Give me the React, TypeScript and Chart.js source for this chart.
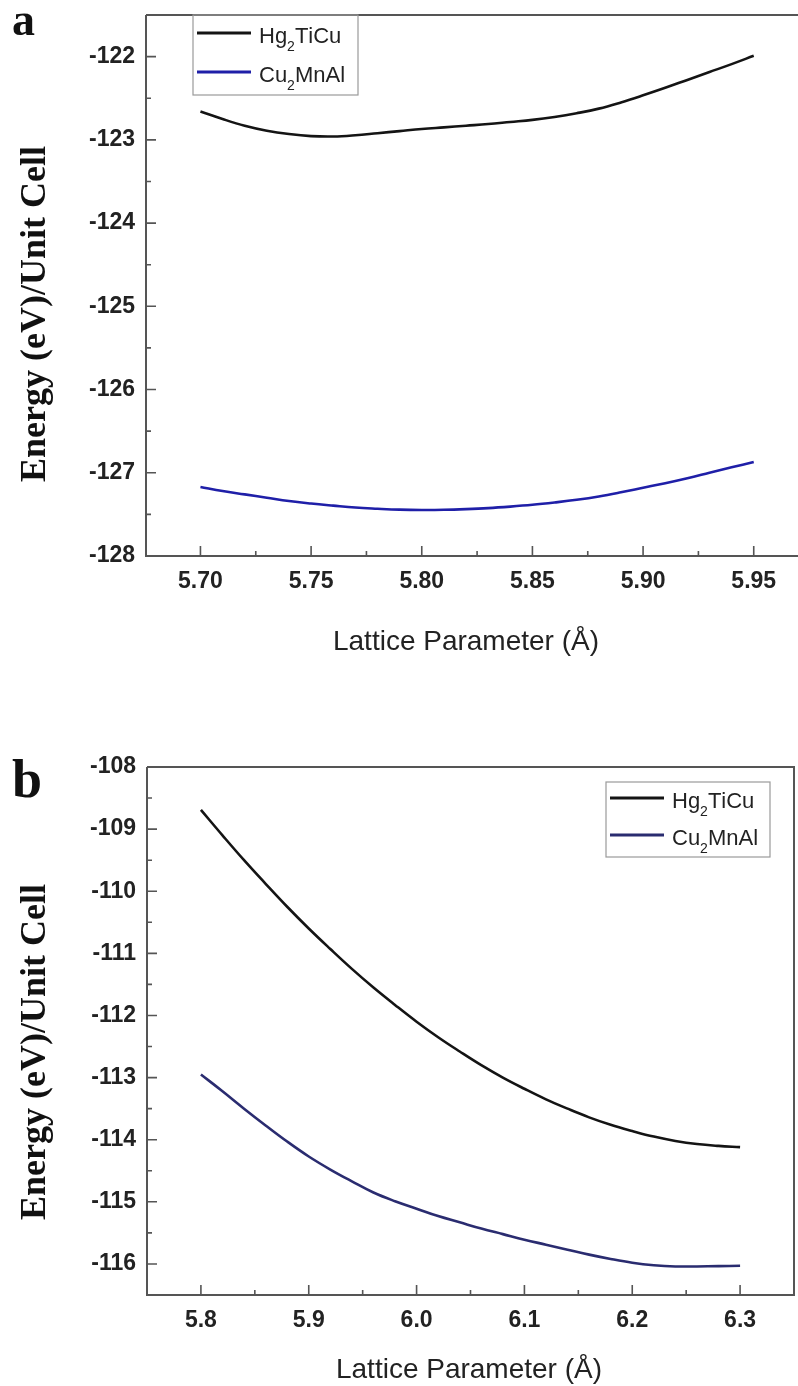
import React, { useEffect, useRef } from "react";
import { Chart, registerables } from "chart.js";

Chart.register(...registerables);

// ---------- data ----------
const seriesLabels = ["Hg₂TiCu", "Cu₂MnAl"];
const yTitle = "Energy (eV)/Unit Cell";
const xTitle = "Lattice Parameter (Å)";
const panelLetters = ["a", "b"];

const latticeA = [
  5.70, 5.71, 5.72, 5.73, 5.74, 5.75, 5.76, 5.77, 5.78, 5.79, 5.80, 5.81, 5.82,
  5.83, 5.84, 5.85, 5.86, 5.87, 5.88, 5.89, 5.90, 5.91, 5.92, 5.93, 5.94, 5.95,
];
const hgTiCuA = [
  -122.66, -122.75, -122.83, -122.89, -122.93, -122.955, -122.96, -122.945,
  -122.92, -122.895, -122.87, -122.85, -122.83, -122.81, -122.785, -122.76,
  -122.725, -122.68, -122.625, -122.55, -122.465, -122.375, -122.28, -122.185,
  -122.09, -121.99,
];
const cuMnAlA = [
  -127.17, -127.22, -127.26, -127.3, -127.34, -127.37, -127.395, -127.418,
  -127.432, -127.443, -127.447, -127.445, -127.437, -127.425, -127.407,
  -127.385, -127.357, -127.325, -127.285, -127.235, -127.18, -127.125,
  -127.065, -127.0, -126.935, -126.87,
];
const xTicksA = [5.7, 5.75, 5.8, 5.85, 5.9, 5.95];
const yTicksA = [-128, -127, -126, -125, -124, -123, -122];

const latticeB = [
  5.80, 5.82, 5.84, 5.86, 5.88, 5.90, 5.92, 5.94, 5.96, 5.98, 6.00, 6.02, 6.04,
  6.06, 6.08, 6.10, 6.12, 6.14, 6.16, 6.18, 6.20, 6.22, 6.24, 6.26, 6.28, 6.30,
];
const hgTiCuB = [
  -108.69, -109.1, -109.5, -109.88, -110.25, -110.6, -110.93, -111.25,
  -111.55, -111.83, -112.1, -112.35, -112.58, -112.8, -113.0, -113.18,
  -113.35, -113.5, -113.64, -113.76, -113.86, -113.95, -114.02, -114.07,
  -114.1, -114.12,
];
const cuMnAlB = [
  -112.95, -113.22, -113.5, -113.77, -114.03, -114.27, -114.48, -114.67,
  -114.85, -114.99, -115.11, -115.23, -115.33, -115.43, -115.52, -115.61,
  -115.69, -115.77, -115.85, -115.92, -115.98, -116.02, -116.04, -116.04,
  -116.035, -116.03,
];
const xTicksB = [5.8, 5.9, 6.0, 6.1, 6.2, 6.3];
const yTicksB = [-116, -115, -114, -113, -112, -111, -110, -109, -108];

// ---------- drawing helpers ----------
const SUBS: Record<string, string> = { "₂": "2" };

function drawRich(ctx: CanvasRenderingContext2D, text: string, x: number, y: number, size: number, subSize: number, subDrop: number) {
  let cx = x;
  for (const ch of Array.from(text)) {
    if (SUBS[ch]) {
      ctx.font = `${subSize}px "Liberation Sans", Arial, sans-serif`;
      ctx.fillText(SUBS[ch], cx, y + subDrop);
      cx += ctx.measureText(SUBS[ch]).width;
    } else {
      ctx.font = `${size}px "Liberation Sans", Arial, sans-serif`;
      ctx.fillText(ch, cx, y);
      cx += ctx.measureText(ch).width;
    }
  }
}

const framePlugin = {
  id: "frame",
  afterDraw(chart: any, _args: any, o: any) {
    const { ctx, chartArea: ca, scales } = chart;
    const xs = scales.x;
    const ys = scales.y;
    ctx.save();

    // frame
    ctx.strokeStyle = o.axisColor;
    ctx.lineWidth = 2;
    ctx.beginPath();
    ctx.moveTo(ca.left, ca.top);
    ctx.lineTo(ca.left, ca.bottom);
    ctx.lineTo(ca.right, ca.bottom);
    if (o.rightBorder) ctx.lineTo(ca.right, ca.top);
    else ctx.moveTo(ca.right, ca.top);
    ctx.lineTo(ca.left, ca.top);
    ctx.stroke();

    // ticks (inward), major + minor
    ctx.lineWidth = 1.6;
    const xVals = xs.ticks.map((t: any) => t.value);
    const yVals = ys.ticks.map((t: any) => t.value);
    const minorOf = (vals: number[], step: number, min: number, max: number) => {
      const out: number[] = [];
      if (!vals.length) return out;
      const cand = [vals[0] - step / 2, ...vals.map((v) => v + step / 2)];
      for (const c of cand) if (c > min + step * 0.05 && c < max - step * 0.05) out.push(c);
      return out;
    };
    ctx.beginPath();
    for (const v of xVals) {
      const p = xs.getPixelForValue(v);
      ctx.moveTo(p, ca.bottom);
      ctx.lineTo(p, ca.bottom - 10);
    }
    for (const v of minorOf(xVals, o.xStep, xs.min, xs.max)) {
      const p = xs.getPixelForValue(v);
      ctx.moveTo(p, ca.bottom);
      ctx.lineTo(p, ca.bottom - 5);
    }
    for (const v of yVals) {
      const p = ys.getPixelForValue(v);
      ctx.moveTo(ca.left, p);
      ctx.lineTo(ca.left + 10, p);
    }
    for (const v of minorOf(yVals, o.yStep, ys.min, ys.max)) {
      const p = ys.getPixelForValue(v);
      ctx.moveTo(ca.left, p);
      ctx.lineTo(ca.left + 5, p);
    }
    ctx.stroke();

    // axis titles
    ctx.fillStyle = "#222";
    ctx.textAlign = "center";
    ctx.textBaseline = "alphabetic";
    ctx.font = `28px "Liberation Sans", Arial, sans-serif`;
    ctx.fillText(o.xTitle, o.xTitleX, o.xTitleY);

    ctx.save();
    ctx.translate(o.yTitleX, o.yTitleY);
    ctx.rotate(-Math.PI / 2);
    ctx.fillStyle = "#111";
    ctx.font = `bold 36px "Liberation Serif", "Times New Roman", serif`;
    ctx.fillText(o.yTitle, 0, 0);
    ctx.restore();

    // panel letter
    ctx.textAlign = "left";
    ctx.fillStyle = "#111";
    ctx.font = `bold ${o.letterSize}px "Liberation Serif", "Times New Roman", serif`;
    ctx.fillText(o.letter, o.letterX, o.letterY);

    // legend
    const L = o.legend;
    ctx.strokeStyle = "#9a9a9a";
    ctx.lineWidth = 1.2;
    ctx.strokeRect(L.left, L.top, L.width, L.height);
    chart.data.datasets.forEach((ds: any, i: number) => {
      const ry = L.top + L.rows[i];
      ctx.strokeStyle = ds.borderColor;
      ctx.lineWidth = 3;
      ctx.beginPath();
      ctx.moveTo(L.left + 4, ry);
      ctx.lineTo(L.left + 58, ry);
      ctx.stroke();
      ctx.fillStyle = "#222";
      ctx.textAlign = "left";
      ctx.textBaseline = "alphabetic";
      drawRich(ctx, ds.label, L.left + 66, ry + 10, 22, 14, 8);
    });

    ctx.restore();
  },
};

function makeConfig(p: any) {
  const tickFont = { family: '"Liberation Sans", Arial, sans-serif', size: 23, weight: "bold" as const };
  return {
    type: "line" as const,
    data: {
      datasets: [
        {
          label: seriesLabels[0],
          data: p.xs.map((x: number, i: number) => ({ x, y: p.s1[i] })),
          borderColor: p.c1,
          borderWidth: 2.6,
          pointRadius: 0,
          tension: 0.4,
          fill: false,
        },
        {
          label: seriesLabels[1],
          data: p.xs.map((x: number, i: number) => ({ x, y: p.s2[i] })),
          borderColor: p.c2,
          borderWidth: 2.6,
          pointRadius: 0,
          tension: 0.4,
          fill: false,
        },
      ],
    },
    options: {
      responsive: false,
      animation: false as const,
      layout: { padding: { top: p.padTop, right: p.padRight, left: 0, bottom: 0 } },
      plugins: {
        legend: { display: false },
        tooltip: { enabled: false },
        frame: p.frame,
      },
      scales: {
        x: {
          type: "linear" as const,
          min: p.xMin,
          max: p.xMax,
          grid: { display: false, drawTicks: false },
          border: { display: false },
          afterBuildTicks: (s: any) => {
            s.ticks = p.xTicks.map((v: number) => ({ value: v }));
          },
          ticks: {
            autoSkip: false,
            maxRotation: 0,
            padding: 12,
            color: "#222",
            font: tickFont,
            callback: (v: any) => Number(v).toFixed(p.xDec),
          },
          afterFit: (s: any) => {
            s.height = p.xAxisH;
            s.paddingLeft = 0;
            s.paddingRight = 0;
          },
        },
        y: {
          type: "linear" as const,
          min: p.yMin,
          max: p.yMax,
          grid: { display: false, drawTicks: false },
          border: { display: false },
          afterBuildTicks: (s: any) => {
            s.ticks = p.yTicks.map((v: number) => ({ value: v }));
          },
          ticks: {
            autoSkip: false,
            padding: 11,
            color: "#222",
            font: tickFont,
            callback: (v: any) => String(Math.round(Number(v))),
          },
          afterFit: (s: any) => {
            s.width = p.yAxisW;
            s.paddingTop = 0;
            s.paddingBottom = 0;
          },
        },
      },
    },
    plugins: [framePlugin],
  };
}

function Panel(props: { top: number; height: number; cfg: any }) {
  const ref = useRef<HTMLCanvasElement>(null);
  useEffect(() => {
    if (!ref.current) return;
    const chart = new Chart(ref.current, props.cfg);
    return () => chart.destroy();
  }, []);
  return (
    <canvas
      ref={ref}
      width={798}
      height={props.height}
      style={{ position: "absolute", left: 0, top: props.top, width: 798, height: props.height }}
    />
  );
}

const cfgA = makeConfig({
  xs: latticeA,
  s1: hgTiCuA,
  s2: cuMnAlA,
  c1: "#141414",
  c2: "#1f1fa8",
  xMin: 5.6754,
  xMax: 5.97,
  xStep: 0.05,
  xTicks: xTicksA,
  yTicks: yTicksA,
  xDec: 2,
  yMin: -128,
  yMax: -121.5,
  padTop: 15,
  padRight: 0,
  xAxisH: 104,
  yAxisW: 146,
  frame: {
    axisColor: "#555",
    rightBorder: false,
    xStep: 0.05,
    yStep: 1,
    xTitle,
    xTitleX: 466,
    xTitleY: 650,
    yTitle,
    yTitleX: 45,
    yTitleY: 314,
    letter: panelLetters[0],
    letterX: 12,
    letterY: 35,
    letterSize: 46,
    legend: { left: 193, top: 15, width: 165, height: 80, rows: [18, 57] },
  },
});

const cfgB = makeConfig({
  xs: latticeB,
  s1: hgTiCuB,
  s2: cuMnAlB,
  c1: "#141414",
  c2: "#2a2c70",
  xMin: 5.75,
  xMax: 6.35,
  xStep: 0.1,
  xTicks: xTicksB,
  yTicks: yTicksB,
  xDec: 1,
  yMin: -116.5,
  yMax: -108,
  padTop: 107,
  padRight: 4,
  xAxisH: 91,
  yAxisW: 147,
  frame: {
    axisColor: "#555",
    rightBorder: true,
    xStep: 0.1,
    yStep: 1,
    xTitle,
    xTitleX: 469,
    xTitleY: 718,
    yTitle,
    yTitleX: 45,
    yTitleY: 392,
    letter: panelLetters[1],
    letterX: 12,
    letterY: 137,
    letterSize: 54,
    legend: { left: 606, top: 122, width: 164, height: 75, rows: [16, 53] },
  },
});

export default function App() {
  return (
    <div style={{ position: "absolute", left: 0, top: 0, width: 798, height: 1386, background: "#fff" }}>
      <Panel top={0} height={660} cfg={cfgA} />
      <Panel top={660} height={726} cfg={cfgB} />
    </div>
  );
}
